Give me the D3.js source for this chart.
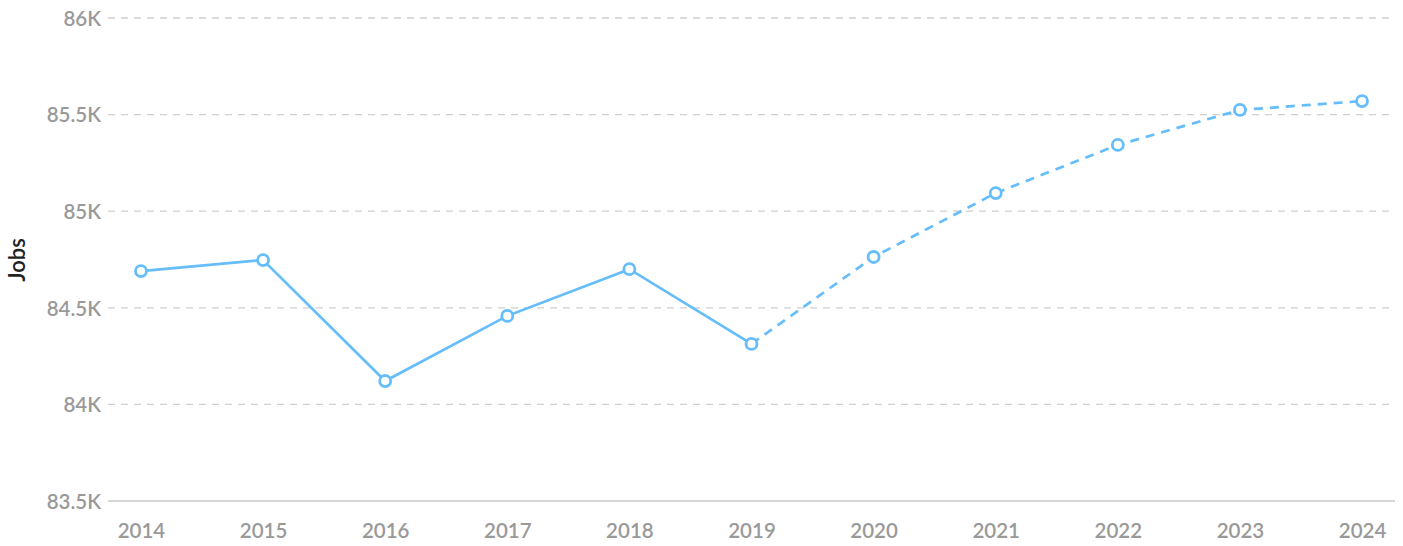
<!DOCTYPE html>
<html lang="en">
<head>
  <meta charset="UTF-8">
  <title>Jobs</title>
  <script src="https://d3js.org/d3.v7.min.js"></script>
  <style>
    body { margin: 0; background: #fff; }
    text { font-family: Lato, sans-serif; }
    .tick text { fill: #999999; font-size: 20.5px; font-weight: 600; }
    .grid line { stroke: #cfcfcf; stroke-width: 1.3; stroke-dasharray: 7, 6; }
    .yAxisLabel { font-size: 22px; font-weight: 600; fill: #222; }
  </style>
</head>
<body>
  <div id="chart"></div>
  <script>
    // data
    const years = [2014, 2015, 2016, 2017, 2018, 2019, 2020, 2021, 2022, 2023, 2024];
    const jobs = [84690, 84747, 84121, 84458, 84700, 84313, 84763, 85094, 85343, 85524, 85570];
    const lastActual = 2019;
    const yTicks = [83500, 84000, 84500, 85000, 85500, 86000];

    const width = 1403, height = 546;
    const plotLeft = 108, plotRight = 1395, plotTop = 18, plotBottom = 501;

    const svg = d3.select("#chart").append("svg")
      .attr("width", width)
      .attr("height", height);

    const x = d3.scalePoint()
      .domain(years)
      .range([plotLeft, plotRight])
      .padding(0.27);

    const y = d3.scaleLinear()
      .domain([83500, 86000])
      .range([plotBottom, plotTop]);

    // grid lines
    const grid = svg.append("g").attr("class", "grid");
    grid.selectAll("line")
      .data(yTicks.slice(1))
      .enter()
      .append("line")
      .attr("x1", plotLeft)
      .attr("x2", plotRight)
      .attr("y1", d => y(d))
      .attr("y2", d => y(d));

    // baseline
    svg.append("line")
      .attr("x1", plotLeft)
      .attr("x2", plotRight)
      .attr("y1", y(83500))
      .attr("y2", y(83500))
      .attr("stroke", "#c8c8c8")
      .attr("stroke-width", 1.5);

    // y axis
    const yAxis = svg.append("g")
      .attr("transform", `translate(${plotLeft},0)`)
      .call(d3.axisLeft(y).tickValues(yTicks).tickSize(0).tickPadding(7)
        .tickFormat(d => (d / 1000) + "K"));
    yAxis.select(".domain").remove();
    yAxis.selectAll("text").attr("dy", "0.36em");

    // x axis
    const xAxis = svg.append("g")
      .attr("transform", `translate(0,${plotBottom})`)
      .call(d3.axisBottom(x).tickSize(0).tickPadding(22));
    xAxis.select(".domain").remove();

    svg.append("text")
      .attr("class", "yAxisLabel")
      .attr("transform", `translate(25,260) rotate(-90)`)
      .attr("text-anchor", "middle")
      .text("Jobs");

    const line = d3.line()
      .x(d => x(d.year))
      .y(d => y(d.value));

    const pts = years.map((yr, i) => ({ year: yr, value: jobs[i] }));
    const actual = pts.filter(d => d.year <= lastActual);
    const forecast = pts.filter(d => d.year >= lastActual);

    const color = "#66bdfb";

    svg.append("path")
      .datum(actual)
      .attr("fill", "none")
      .attr("stroke", color)
      .attr("stroke-width", 2.7)
      .attr("d", line);

    svg.append("path")
      .datum(forecast)
      .attr("fill", "none")
      .attr("stroke", color)
      .attr("stroke-width", 2.7)
      .attr("stroke-dasharray", "9,7")
      .attr("d", line);

    svg.selectAll("circle")
      .data(pts)
      .enter()
      .append("circle")
      .attr("cx", d => x(d.year))
      .attr("cy", d => y(d.value))
      .attr("r", 5.5)
      .attr("fill", "#fff")
      .attr("stroke", color)
      .attr("stroke-width", 2.8);
  </script>
</body>
</html>
